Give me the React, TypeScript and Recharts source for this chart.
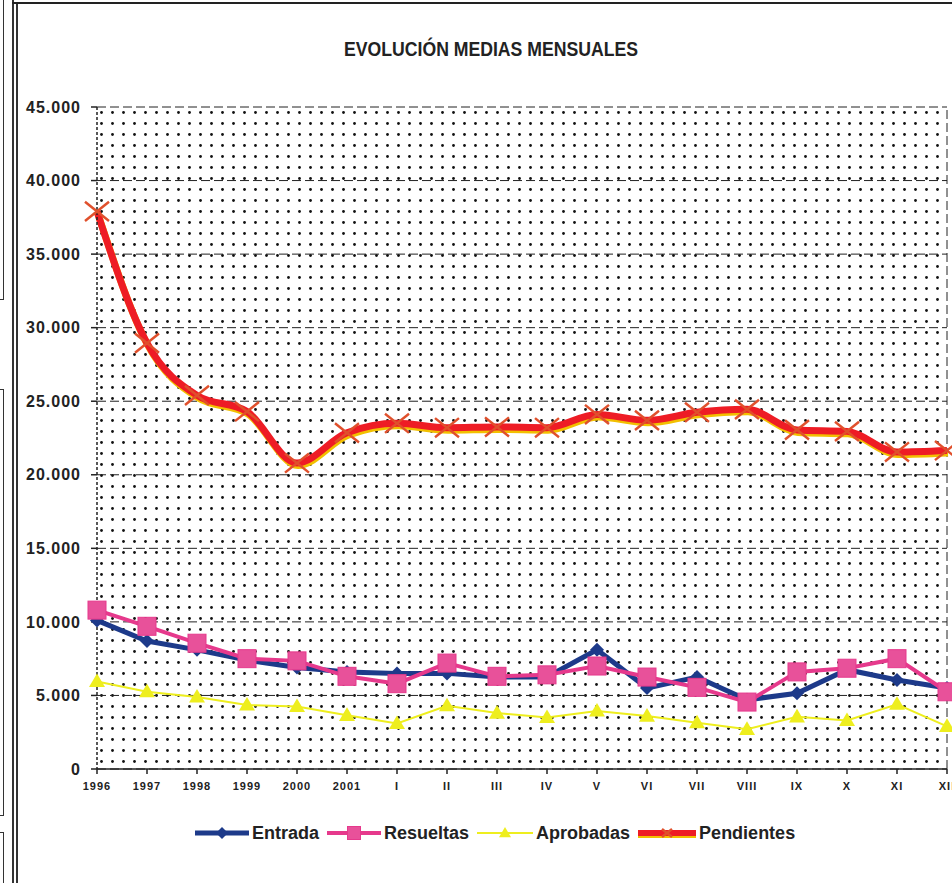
import { LineChart, Line, XAxis, YAxis, CartesianGrid, ReferenceLine } from 'recharts';

const categories = ['1996', '1997', '1998', '1999', '2000', '2001', 'I', 'II', 'III', 'IV', 'V', 'VI', 'VII', 'VIII', 'IX', 'X', 'XI', 'XII'];
const entrada = [10100, 8700, 8100, 7400, 6900, 6600, 6500, 6500, 6250, 6250, 8100, 5500, 6250, 4700, 5150, 6750, 6050, 5500];
const resueltas = [10800, 9700, 8550, 7500, 7350, 6300, 5800, 7200, 6300, 6400, 7000, 6250, 5550, 4550, 6600, 6850, 7500, 5250];
const aprobadas = [5950, 5250, 4900, 4350, 4250, 3650, 3100, 4300, 3800, 3500, 3950, 3600, 3150, 2700, 3550, 3300, 4400, 2900];
const pendientes = [37900, 28950, 25400, 24300, 20800, 22850, 23500, 23200, 23250, 23200, 24100, 23700, 24250, 24450, 23050, 22950, 21550, 21650];
const yTicks = [0, 5000, 10000, 15000, 20000, 25000, 30000, 35000, 40000, 45000];

const data = categories.map((label, i) => ({
  label,
  entrada: entrada[i],
  resueltas: resueltas[i],
  aprobadas: aprobadas[i],
  pendientes: pendientes[i],
}));

const BLUE = '#1d3a8a';
const PINK = '#e6398c';
const YELLOW = '#eeee1e';
const RED = '#ee1c25';
const FONT = '"Liberation Sans", Arial, sans-serif';

const fmt = (v: number) => (v === 0 ? '0' : v.toLocaleString('de-DE'));

const Diamond = ({ cx, cy, r = 7 }: any) => (
  <polygon points={`${cx},${cy - r} ${cx + r},${cy} ${cx},${cy + r} ${cx - r},${cy}`} fill={BLUE} />
);
const Square = ({ cx, cy, s = 18 }: any) => (
  <rect x={cx - s / 2} y={cy - s / 2} width={s} height={s} fill="#e8519a" stroke={PINK} strokeWidth={1} />
);
const Triangle = ({ cx, cy, s = 8 }: any) => (
  <polygon points={`${cx},${cy - s} ${cx + s},${cy + s * 0.7} ${cx - s},${cy + s * 0.7}`} fill={YELLOW} />
);
const Cross = ({ cx, cy, s = 12 }: any) => (
  <g stroke="#e0502c" strokeWidth={2.5}>
    <line x1={cx - s} y1={cy - s * 0.8} x2={cx + s} y2={cy + s * 0.8} />
    <line x1={cx - s} y1={cy + s * 0.8} x2={cx + s} y2={cy - s * 0.8} />
  </g>
);

function LegendItem({ label, icon, width }: { label: string; icon: any; width: number }) {
  return (
    <div style={{ display: 'flex', alignItems: 'center', marginRight: 8 }}>
      <svg width={width} height={22} style={{ marginRight: 3 }}>
        {icon}
      </svg>
      <span style={{ fontFamily: FONT, fontWeight: 700, fontSize: 18, color: '#222' }}>{label}</span>
    </div>
  );
}

function Legend() {
  return (
    <div style={{ position: 'absolute', left: 195, top: 822, display: 'flex', alignItems: 'center' }}>
      <LegendItem
        label="Entrada"
        width={54}
        icon={
          <g>
            <line x1={0} y1={11} x2={54} y2={11} stroke={BLUE} strokeWidth={5} />
            <Diamond cx={27} cy={11} r={6} />
          </g>
        }
      />
      <LegendItem
        label="Resueltas"
        width={54}
        icon={
          <g>
            <line x1={0} y1={11} x2={54} y2={11} stroke={PINK} strokeWidth={4} />
            <Square cx={27} cy={11} s={13} />
          </g>
        }
      />
      <LegendItem
        label="Aprobadas"
        width={56}
        icon={
          <g>
            <line x1={0} y1={11} x2={56} y2={11} stroke={YELLOW} strokeWidth={2} />
            <Triangle cx={28} cy={11} s={6} />
          </g>
        }
      />
      <LegendItem
        label="Pendientes"
        width={58}
        icon={
          <g>
            <line x1={0} y1={13} x2={58} y2={13} stroke="#f2c000" strokeWidth={6} />
            <line x1={0} y1={11} x2={58} y2={11} stroke={RED} strokeWidth={6} />
            <Cross cx={29} cy={11} s={5} />
          </g>
        }
      />
    </div>
  );
}

export default function App() {
  return (
    <div
      style={{
        position: 'fixed',
        left: 0,
        top: 0,
        width: 952,
        height: 883,
        overflow: 'hidden',
        background: '#fff',
      }}
    >
      <style>{`.pend-shadow .recharts-line-curve { transform: translate(1px, 2.5px); }`}</style>
      {/* scanned page frame */}
      <div style={{ position: 'absolute', left: -2, top: -2, width: 4, height: 300, border: '1.5px solid #333' }} />
      <div style={{ position: 'absolute', left: -2, top: 389, width: 4, height: 425, border: '1.5px solid #333' }} />
      <div style={{ position: 'absolute', left: -2, top: 832, width: 4, height: 80, border: '1.5px solid #333' }} />
      <div style={{ position: 'absolute', left: 12, top: 0, width: 1.5, height: 883, background: '#333' }} />
      <div style={{ position: 'absolute', left: 16, top: 2, width: 1.5, height: 881, background: '#333' }} />
      <div style={{ position: 'absolute', left: 12, top: 2, width: 940, height: 2, background: '#222' }} />

      <div style={{ position: 'absolute', left: 0, width: 982, top: 37, textAlign: 'center' }}>
        <span
          style={{
            display: 'inline-block',
            transform: 'scaleX(0.84)',
            fontFamily: FONT,
            fontWeight: 700,
            fontSize: 21,
            color: '#222',
          }}
        >
          EVOLUCIÓN MEDIAS MENSUALES
        </span>
      </div>

      <div style={{ position: 'absolute', left: 0, top: 0 }}>
        <LineChart width={1000} height={883} data={data} margin={{ top: 107, right: 53, left: 0, bottom: 84 }}>
          <defs>
            <pattern id="dots" width={11} height={11} patternUnits="userSpaceOnUse" x={97} y={107}>
              <circle cx={4.5} cy={5.5} r={1.4} fill="#111" />
            </pattern>
          </defs>
          <CartesianGrid
            vertical={false}
            stroke="#222"
            strokeDasharray="9 4"
            fill="url(#dots)"
            fillOpacity={1}
          />
          <ReferenceLine x="XII" stroke="#222" strokeDasharray="9 4" />
          <XAxis
            dataKey="label"
            interval={0}
            height={30}
            padding={{ left: 0, right: 0 }}
            axisLine={{ stroke: '#222', strokeWidth: 1.5 }}
            tickLine={{ stroke: '#222', strokeWidth: 1.5 }}
            tickSize={5}
            tickMargin={8}
            tick={{ fill: '#222', fontSize: 11, fontWeight: 700, fontFamily: FONT, letterSpacing: 1 }}
          />
          <YAxis
            width={97}
            domain={[0, 45000]}
            ticks={yTicks}
            interval={0}
            tickFormatter={fmt}
            axisLine={{ stroke: '#222', strokeWidth: 1.5, strokeDasharray: '3 2' }}
            tickLine={{ stroke: '#222', strokeWidth: 1.5 }}
            tickSize={6}
            tickMargin={10}
            tick={{ fill: '#222', fontSize: 16, fontWeight: 700, fontFamily: FONT, letterSpacing: 1 }}
          />
          <Line
            dataKey="entrada"
            stroke={BLUE}
            strokeWidth={5}
            isAnimationActive={false}
            dot={(p: any) => <Diamond key={`e-${p.index}`} cx={p.cx} cy={p.cy} />}
            activeDot={false}
          />
          <Line
            dataKey="resueltas"
            stroke={PINK}
            strokeWidth={4}
            isAnimationActive={false}
            dot={(p: any) => <Square key={`r-${p.index}`} cx={p.cx} cy={p.cy} />}
            activeDot={false}
          />
          <Line
            dataKey="aprobadas"
            stroke={YELLOW}
            strokeWidth={2}
            isAnimationActive={false}
            dot={(p: any) => <Triangle key={`a-${p.index}`} cx={p.cx} cy={p.cy} />}
            activeDot={false}
          />
          <Line
            className="pend-shadow"
            type="monotone"
            dataKey="pendientes"
            stroke="#f2c000"
            strokeWidth={7}
            isAnimationActive={false}
            dot={false}
            activeDot={false}
          />
          <Line
            type="monotone"
            dataKey="pendientes"
            stroke={RED}
            strokeWidth={7}
            isAnimationActive={false}
            dot={(p: any) => <Cross key={`p-${p.index}`} cx={p.cx} cy={p.cy} />}
            activeDot={false}
          />
        </LineChart>
      </div>
      <Legend />
    </div>
  );
}
